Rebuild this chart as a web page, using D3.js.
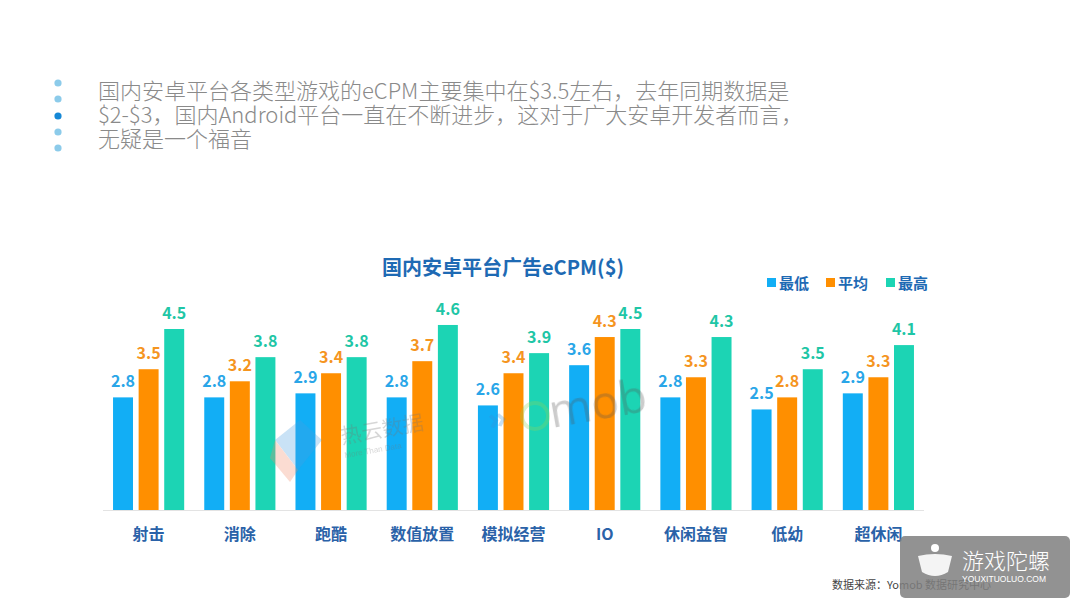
<!DOCTYPE html>
<html>
<head>
<meta charset="utf-8">
<script src="https://cdn.jsdelivr.net/npm/d3@7/dist/d3.min.js"></script>
<style>
  html, body { margin: 0; padding: 0; background: #ffffff; }
  svg { display: block; }
</style>
</head>
<body>
<svg id="chart" width="1080" height="608"></svg>
<script>
const categories = ["射击", "消除", "跑酷", "数值放置", "模拟经营", "IO", "休闲益智", "低幼", "超休闲"];
const seriesNames = ["最低", "平均", "最高"];
const lowValues = [2.8, 2.8, 2.9, 2.8, 2.6, 3.6, 2.8, 2.5, 2.9];
const avgValues = [3.5, 3.2, 3.4, 3.7, 3.4, 4.3, 3.3, 2.8, 3.3];
const highValues = [4.5, 3.8, 3.8, 4.6, 3.9, 4.5, 4.3, 3.5, 4.1];
const introLines = [
  "国内安卓平台各类型游戏的eCPM主要集中在$3.5左右，去年同期数据是",
  "$2-$3，国内Android平台一直在不断进步，这对于广大安卓开发者而言，",
  "无疑是一个福音"
];
const chartTitle = "国内安卓平台广告eCPM($)";
const sourceNote = "数据来源：Yomob 数据研究中心";

const seriesValues = [lowValues, avgValues, highValues];
const barColors = ["#12aef5", "#ff8f00", "#1cd4b4"];
const labelColors = ["#2aa6e8", "#f5951f", "#1fc6a6"];
const font = "'Noto Sans CJK SC', 'Noto Sans', sans-serif";

const svg = d3.select("#chart");

// Intro bullets
const bulletYs = [83, 99, 116, 132, 148];
svg.selectAll("circle.bullet").data(bulletYs).join("circle")
  .attr("cx", 58).attr("cy", d => d).attr("r", 3.6)
  .attr("fill", (d, i) => i === 2 ? "#1688d6" : "#8ccbea");

svg.selectAll("text.intro").data(introLines).join("text")
  .attr("class", "intro")
  .attr("x", 98).attr("y", (d, i) => 99 + i * 24)
  .attr("font-family", font).attr("font-size", 22).attr("font-weight", 300)
  .attr("fill", "#8a8a8a")
  .text(d => d);

// Title
svg.append("text")
  .attr("x", 503).attr("y", 275).attr("text-anchor", "middle")
  .attr("font-family", font).attr("font-size", 20).attr("font-weight", 700)
  .attr("fill", "#1e6ab4")
  .text(chartTitle);

// Legend
const legendX = [767, 826, 886];
const lg = svg.selectAll("g.legend").data(seriesNames).join("g")
  .attr("transform", (d, i) => `translate(${legendX[i]},283)`);
lg.append("rect").attr("x", 0).attr("y", -5).attr("width", 9).attr("height", 9)
  .attr("fill", (d, i) => barColors[i]);
lg.append("text").attr("x", 12).attr("y", 5.5)
  .attr("font-family", font).attr("font-size", 15).attr("font-weight", 700)
  .attr("fill", "#1e6ab4").text(d => d);

// Scales
const x0 = d3.scaleBand().domain(categories).range([103, 924])
  .paddingInner(0.22).paddingOuter(0.11);
const x1 = d3.scaleBand().domain(d3.range(3)).range([0, x0.bandwidth()])
  .paddingInner(0.22).paddingOuter(0);
const y = d3.scaleLinear().domain([0, 4.5]).range([510, 329]);

// Axis baseline
svg.append("line").attr("x1", 103).attr("x2", 924).attr("y1", 510.5).attr("y2", 510.5)
  .attr("stroke", "#e3e3e3").attr("stroke-width", 1);

// Bars
const groups = svg.selectAll("g.grp").data(categories).join("g")
  .attr("transform", d => `translate(${x0(d)},0)`);
groups.each(function(cat, ci) {
  const g = d3.select(this);
  const vals = seriesValues.map(s => s[ci]);
  g.selectAll("rect").data(vals).join("rect")
    .attr("x", (d, i) => x1(i)).attr("width", x1.bandwidth())
    .attr("y", d => y(d)).attr("height", d => y(0) - y(d))
    .attr("fill", (d, i) => barColors[i]);
  g.selectAll("text").data(vals).join("text")
    .attr("x", (d, i) => x1(i) + x1.bandwidth() / 2)
    .attr("y", d => y(d) - 10)
    .attr("text-anchor", "middle")
    .attr("font-family", font).attr("font-size", 16).attr("font-weight", 700)
    .attr("fill", (d, i) => labelColors[i])
    .text(d => d.toFixed(1));
});

// Watermarks (faint, over bars)
const wm = svg.append("g").attr("opacity", 0.3);
wm.append("path").attr("d", "M275,440 L300,420 L322,440 L298,470 Z").attr("fill", "#4a9fe0");
wm.append("path").attr("d", "M275,440 L298,470 L290,482 L270,458 Z").attr("fill", "#f08a6a");
wm.append("text").attr("x", 342).attr("y", 444).attr("font-family", font)
  .attr("font-size", 21).attr("fill", "#777").attr("transform", "rotate(-10,342,444)").text("热云数据");
wm.append("text").attr("x", 345).attr("y", 458).attr("font-family", "'Liberation Sans', sans-serif")
  .attr("font-size", 8).attr("fill", "#777").attr("transform", "rotate(-10,345,458)").text("More Than Data");
wm.append("text").attr("x", 490).attr("y", 430).attr("font-family", "'Open Sans', sans-serif")
  .attr("font-size", 30).attr("font-weight", 700).attr("fill", "#3a8fd8").attr("transform", "rotate(-10,490,430)").text("»");
wm.append("circle").attr("cx", 535).attr("cy", 416).attr("r", 13).attr("fill", "none")
  .attr("stroke", "#8fd45a").attr("stroke-width", 4);
wm.append("text").attr("x", 552).attr("y", 428).attr("font-family", "'Open Sans', sans-serif")
  .attr("font-size", 46).attr("fill", "#555").attr("transform", "rotate(-10,552,428)").text("mob");

// Category axis labels
const xAxis = d3.axisBottom(x0).tickSize(0).tickPadding(0);
const ax = svg.append("g").attr("transform", "translate(0,526)").call(xAxis);
ax.select(".domain").remove();
ax.selectAll("text")
  .attr("font-family", font).attr("font-size", 16).attr("font-weight", 700)
  .attr("fill", "#2a62a8").attr("dy", "0.9em");

// Source note
svg.append("text").attr("x", 832).attr("y", 589)
  .attr("font-family", font).attr("font-size", 11).attr("fill", "#444")
  .text(sourceNote);

// Corner watermark box
const box = svg.append("g");
box.append("rect").attr("x", 900).attr("y", 536).attr("width", 170).attr("height", 62)
  .attr("rx", 5).attr("fill", "#7f7f7f").attr("opacity", 0.85);
box.append("path")
  .attr("d", "M918,556 Q935,552 952,556 L948,572 Q935,580 922,572 Z")
  .attr("fill", "#ffffff").attr("opacity", 0.9);
box.append("circle").attr("cx", 935).attr("cy", 548).attr("r", 4).attr("fill", "#ffffff");
box.append("text").attr("x", 962).attr("y", 569)
  .attr("font-family", font).attr("font-size", 22).attr("font-weight", 300)
  .attr("fill", "#ffffff").text("游戏陀螺");
box.append("text").attr("x", 962).attr("y", 582)
  .attr("font-family", "'Liberation Sans', sans-serif").attr("font-size", 8.5)
  .attr("fill", "#ffffff").text("YOUXITUOLUO.COM");
</script>
</body>
</html>
